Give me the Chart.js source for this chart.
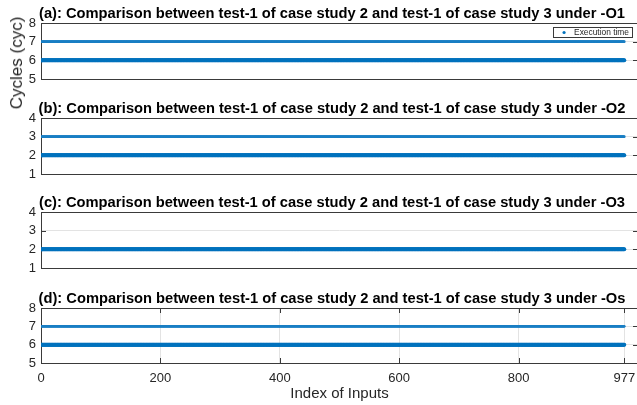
<!DOCTYPE html>
<html><head><meta charset="utf-8">
<script src="https://cdn.jsdelivr.net/npm/chart.js@4.4.1/dist/chart.umd.min.js"></script>
<style>
html,body{margin:0;padding:0;background:#fff;overflow:hidden;width:637px;height:405px;position:relative;}
.panel{position:absolute;left:0;}
#ylab{position:absolute;left:17px;top:63px;transform:translate(-50%,-50%) rotate(-90deg);font:17px "Liberation Sans",Arial,sans-serif;color:#262626;white-space:nowrap;}
</style></head><body>
<canvas id="c0" class="panel" width="664" height="95" style="top:0px"></canvas>
<canvas id="c1" class="panel" width="664" height="95" style="top:95px"></canvas>
<canvas id="c2" class="panel" width="664" height="95" style="top:189px"></canvas>
<canvas id="c3" class="panel" width="664" height="120" style="top:285px"></canvas>
<div id="ylab">Cycles (cyc)</div>
<script>
// ---- data ----
const inputCount = 977;                 // inputs indexed 1..977
const subplotTitles = [
  '(a): Comparison between test-1 of case study 2 and test-1 of case study 3 under -O1',
  '(b): Comparison between test-1 of case study 2 and test-1 of case study 3 under -O2',
  '(c): Comparison between test-1 of case study 2 and test-1 of case study 3 under -O3',
  '(d): Comparison between test-1 of case study 2 and test-1 of case study 3 under -Os'
];
const cyclesO1 = [6, 7];   // observed execution-time levels (cyc) for every input
const cyclesO2 = [2, 3];
const cyclesO3 = [2];
const cyclesOs = [6, 7];
const yLimitsO1 = [5, 8];
const yLimitsO2 = [1, 4];
const yLimitsO3 = [1, 4];
const yLimitsOs = [5, 8];
const xTicks = [0, 200, 400, 600, 800, 977];
const xLimits = [0, 1000];
const legendLabel = 'Execution time';
const xAxisTitle = 'Index of Inputs';

// ---- rendering ----
Chart.defaults.font.family = '"Liberation Sans", Arial, sans-serif';
Chart.defaults.color = '#262626';
const BLUE = '#0072BD';
const AXIS = '#3a3a3a';
const GRID = '#e3e3e3';

const boxPlugin = {
  id: 'boxPlugin',
  beforeDatasetsDraw(chart, args, opts) {
    const {ctx, chartArea: a, scales} = chart;
    ctx.save();
    ctx.strokeStyle = AXIS;
    ctx.lineWidth = 1;
    ctx.strokeRect(Math.round(a.left) + 0.5, Math.round(a.top) + 0.5, Math.round(a.right - a.left), Math.round(a.bottom - a.top));
    ctx.beginPath();
    scales.y.ticks.forEach(t => {
      const y = Math.round(scales.y.getPixelForValue(t.value)) + 0.5;
      ctx.moveTo(a.left, y); ctx.lineTo(a.left + 5, y);
      ctx.moveTo(a.right, y); ctx.lineTo(a.right - 5, y);
    });
    if (opts.xTicks) {
      scales.x.ticks.forEach(t => {
        const x = Math.round(scales.x.getPixelForValue(t.value)) + 0.5;
        ctx.moveTo(x, a.bottom); ctx.lineTo(x, a.bottom - 5);
        ctx.moveTo(x, a.top); ctx.lineTo(x, a.top + 5);
      });
    }
    ctx.stroke();
    ctx.restore();
  },
  afterDraw(chart, args, opts) {
    const {ctx, chartArea: a} = chart;
    ctx.save();
    // panel title, centred on the canvas (which extends past the window to the right)
    ctx.font = 'bold 14.7px "Liberation Sans", Arial, sans-serif';
    ctx.fillStyle = '#000';
    ctx.textAlign = 'center';
    ctx.textBaseline = 'middle';
    ctx.fillText(opts.title, chart.width / 2, a.top - 9.5);
    ctx.restore();
    if (!opts.legend) return;
    ctx.save();
    ctx.font = '8.4px "Liberation Sans", Arial, sans-serif';
    const tw = ctx.measureText(opts.legend).width;
    const right = a.right - 6, top = a.top + 4, h = 10;
    const w = tw + 24;
    const left = right - w;
    ctx.fillStyle = '#fff';
    ctx.fillRect(left, top, w, h);
    ctx.strokeStyle = AXIS;
    ctx.lineWidth = 1;
    ctx.strokeRect(Math.round(left) + 0.5, Math.round(top) + 0.5, Math.round(w), h);
    ctx.fillStyle = BLUE;
    ctx.beginPath(); ctx.arc(left + 11, top + h / 2 + 0.5, 1.6, 0, Math.PI * 2); ctx.fill();
    ctx.fillStyle = '#262626';
    ctx.textBaseline = 'middle';
    ctx.fillText(opts.legend, left + 21, top + h / 2 + 0.8);
    ctx.restore();
  }
};

function makePanel(id, title, levels, yLim, cfg) {
  const datasets = levels.map((lv, i) => {
    const pts = [];
    for (let k = 1; k <= inputCount; k++) pts.push({x: k, y: lv});
    return {
      label: legendLabel, data: pts, showLine: false,
      pointRadius: i === 0 ? 2 : 1.35, pointHoverRadius: 0,
      pointBackgroundColor: i === 0 ? BLUE : '#1a7fc4', pointBorderWidth: 0, borderColor: BLUE
    };
  });
  const xScale = {
    type: 'linear', min: xLimits[0], max: xLimits[1],
    display: !!cfg.showX,
    afterBuildTicks(s) { s.ticks = xTicks.map(v => ({value: v})); },
    grid: {display: !!cfg.xGrid, color: GRID, drawTicks: false},
    border: {display: false},
    ticks: {autoSkip: false, maxRotation: 0, padding: 8, font: {size: 13}, color: '#262626', callback: v => String(v)},
    title: {display: !!cfg.showX, text: xAxisTitle, font: {size: 15}, color: '#262626', padding: {top: 0, bottom: 2}}
  };
  if (cfg.showX) xScale.afterFit = s => { s.height = 42; };
  return new Chart(document.getElementById(id), {
    type: 'scatter',
    data: {datasets},
    options: {
      responsive: false, animation: false, events: [],
      layout: {padding: {left: 0, right: 26, top: 23, bottom: cfg.showX ? 0 : 16}},
      scales: {
        x: xScale,
        y: {
          min: yLim[0], max: yLim[1],
          afterFit(s) { s.width = 41; },
          grid: {display: true, color: GRID, drawTicks: false},
          border: {display: false},
          ticks: {stepSize: 1, autoSkip: false, padding: 5, font: {size: 13}, color: '#262626'}
        }
      },
      plugins: {
        legend: {display: false},
        tooltip: {enabled: false},
        title: {display: false},
        boxPlugin: {title, xTicks: !!cfg.showX, legend: cfg.legend ? legendLabel : null}
      }
    },
    plugins: [boxPlugin]
  });
}

makePanel('c0', subplotTitles[0], cyclesO1, yLimitsO1, {legend: true});
makePanel('c1', subplotTitles[1], cyclesO2, yLimitsO2, {});
makePanel('c2', subplotTitles[2], cyclesO3, yLimitsO3, {});
makePanel('c3', subplotTitles[3], cyclesOs, yLimitsOs, {showX: true, xGrid: true});
</script>
</body></html>
